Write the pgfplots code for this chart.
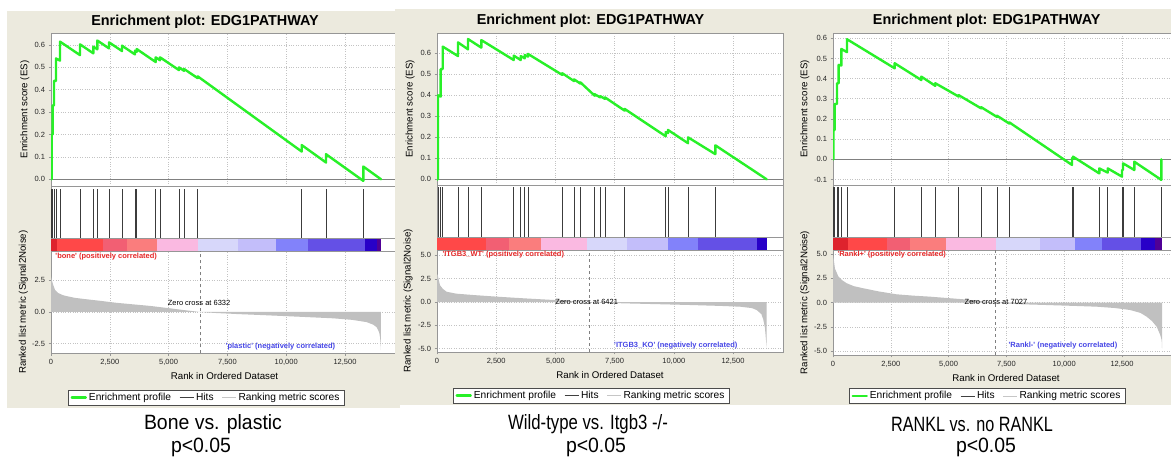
\documentclass[border=0pt]{standalone}
\usepackage{fontspec}
\setmainfont{Liberation Sans}
\usepackage{pgfplots}
\pgfplotsset{compat=1.18}
\usepackage{graphicx}

\definecolor{beige}{RGB}{236,234,222}
\definecolor{esgreen}{RGB}{40,240,40}
\definecolor{framegray}{RGB}{150,150,150}
\definecolor{gridgray}{RGB}{195,195,195}
\definecolor{hitgray}{RGB}{60,60,60}
\definecolor{rankgray}{RGB}{192,192,192}
\definecolor{cbA}{RGB}{222,35,45}
\definecolor{cbB}{RGB}{255,72,72}
\definecolor{cbC}{RGB}{242,95,115}
\definecolor{cbD}{RGB}{250,125,125}
\definecolor{cbE}{RGB}{250,185,225}
\definecolor{cbF}{RGB}{215,215,250}
\definecolor{cbG}{RGB}{195,190,250}
\definecolor{cbH}{RGB}{130,130,250}
\definecolor{cbI}{RGB}{100,80,230}
\definecolor{cbJ}{RGB}{40,0,200}
\definecolor{cbK}{RGB}{80,0,150}
\definecolor{postext}{RGB}{230,40,40}
\definecolor{negtext}{RGB}{70,70,230}

\newcommand\seg[4]{\addplot[fill=#1,draw=none,forget plot] coordinates {(#2,0)(#3,0)(#3,#4)(#2,#4)};}

\tikzset{smalltxt/.style={font=\bfseries\fontsize{7.5}{8}\selectfont}}

\pgfplotsset{
  gsea/.style={
    scale only axis,
    axis background/.style={fill=white},
    axis line style={framegray},
    tick style={framegray, thin},
    tick align=outside,
    major tick length=2.5pt,
    xtick pos=bottom, ytick pos=left,
    ticklabel style={font=\fontsize{7.5}{8}\selectfont, text=black!85},
    label style={font=\fontsize{9.7}{10}\selectfont},
    /pgf/number format/assume math mode=true,
    grid style={gridgray, dotted, line width=0.6pt},
    yticklabel style={/pgf/number format/.cd, fixed, fixed zerofill, precision=1},
    xtick={0,2500,5000,7500,10000,12500},
    scaled x ticks=false, scaled y ticks=false,
  },
  es/.style={gsea, xmajorgrids, ymajorgrids, xticklabels={}, xtick style={draw=none},
    legend columns=3,
    legend style={font=\fontsize{10.2}{11}\selectfont, draw=black!70, inner xsep=2.5pt, inner ysep=1pt,
      /tikz/every even column/.append style={column sep=6pt}},
    legend cell align=left,
    legend image code/.code={\draw[##1] (0pt,0pt) -- (14pt,0pt);},
  },
  hits/.style={gsea, xtick=\empty, ytick=\empty, ymin=0, ymax=65},
  ranked/.style={gsea, xmajorgrids, ymajorgrids,
    xticklabels={0,{2,500},{5,000},{7,500},{10,000},{12,500}},
    xlabel={Rank in Ordered Dataset},
    ylabel={Ranked list metric (Signal2Noise)},
  },
}

\begin{document}
\begin{tikzpicture}[x=1pt,y=1pt]
\useasboundingbox (0,0) rectangle (1171,459);
\fill[white] (0,0) rectangle (1171,459);

% ================= Panel 1 =================
\fill[beige] (7,51) rectangle (400,448);
\begin{axis}[es, at={(51pt,426pt)}, anchor=north west, width=347pt, height=153pt,
  xmin=0, xmax=14753, ymin=-0.030, ymax=0.6537,
  ytick={0,0.1,0.2,0.3,0.4,0.5,0.6},
  ylabel={Enrichment score (ES)},
  ylabel style={at={(axis description cs:-0.075,0.5)}, anchor=center},
  legend style={at={(axis description cs:0.4467,-1.3824)}, anchor=center}]
\addplot[gray, line width=0.6pt, forget plot] coordinates {(0,0)(14753,0)};
\addplot[esgreen, line width=2.4pt, line join=round, line cap=round] coordinates {
(0,0)(30,0)(30,0.20)(72,0.20)(72,0.33)(128,0.33)(128,0.44)(213,0.44)(213,0.54)
(383,0.53)(383,0.615)(1233,0.555)(1233,0.603)(1799,0.563)(1799,0.593)(1969,0.581)(1969,0.62)
(2466,0.585)(2466,0.612)(3019,0.573)(3019,0.597)(3571,0.558)(3571,0.575)(3644,0.57)(3644,0.582)
(4451,0.524)(4451,0.545)(4634,0.532)(4634,0.545)(5442,0.488)(5442,0.50)(5655,0.485)(5655,0.493)
(6237,0.452)(6237,0.46)(10659,0.124)(10659,0.153)(11692,0.075)(11692,0.112)(13278,-0.007)(13278,0.057)(14030,0)};
\addlegendentry{Enrichment profile}
\addlegendimage{color=black!75, line width=0.9pt}
\addlegendentry{Hits}
\addlegendimage{color=gray!45, line width=0.9pt}
\addlegendentry{Ranking metric scores}
\end{axis}
\begin{axis}[hits, at={(51pt,273pt)}, anchor=north west, width=347pt, height=65pt, xmin=0, xmax=14753]
\addplot[ycomb, hitgray, line width=0.9pt, mark=none, forget plot] coordinates {
(30,62)(72,62)(128,62)(213,62)(383,62)(1233,62)(1799,62)(1969,62)(2466,62)(3019,62)(3571,62)(3644,62)
(4451,62)(4634,62)(5442,62)(5655,62)(6237,62)(10659,62)(11692,62)(13278,62)};
\seg{cbA}{0}{242}{12.5}
\seg{cbB}{242}{2224}{12.5}
\seg{cbC}{2224}{3219}{12.5}
\seg{cbD}{3219}{4520}{12.5}
\seg{cbE}{4520}{6262}{12.5}
\seg{cbF}{6262}{7963}{12.5}
\seg{cbG}{7963}{9566}{12.5}
\seg{cbH}{9566}{10939}{12.5}
\seg{cbI}{10939}{13359}{12.5}
\seg{cbJ}{13359}{13848}{12.5}
\seg{cbK}{13848}{14030}{12.5}
\addplot[framegray, line width=0.5pt, forget plot] coordinates {(0,12.5)(14753,12.5)};
\end{axis}
\begin{axis}[ranked, at={(51pt,208pt)}, anchor=north west, width=347pt, height=102.3pt,
  xmin=0, xmax=14753, ymin=-3.26, ymax=4.81, ytick={-2.5,0,2.5},
  ylabel style={at={(axis description cs:-0.0798,0.5)}, anchor=center}]
\addplot[fill=rankgray, draw=none, forget plot] coordinates {
(0,0)(0,2.8)(30,2.55)(100,2.1)(170,1.75)(300,1.5)(500,1.33)(667,1.25)(1000,1.12)(1375,1.03)(2000,0.9)
(2792,0.72)(3500,0.6)(4200,0.48)(4918,0.32)(5600,0.16)(6332,0)(7000,-0.08)(8000,-0.17)(9169,-0.26)
(10500,-0.37)(12003,-0.5)(12800,-0.62)(13421,-0.8)(13700,-1.0)(13846,-1.2)(13950,-1.6)(13988,-1.96)
(14010,-2.4)(14030,-3.0)(14030,0)};
\addplot[gray, dashed, line width=0.5pt, forget plot] coordinates {(6332,-3.26)(6332,4.81)};
\node[smalltxt, text=postext, anchor=west] at (axis cs:40,4.34) {\textquotesingle bone\textquotesingle{} (positively correlated)};
\node[smalltxt, text=negtext] at (axis cs:9758,-2.76) {\textquotesingle plastic\textquotesingle{} (negatively correlated)};
\node[font=\fontsize{7.5}{8}\selectfont] at (axis cs:6293,0.71) {Zero cross at 6332};
\end{axis}
\node[font=\bfseries\fontsize{14.4}{15}\selectfont] at (205,437.3) {Enrichment plot: EDG1PATHWAY};

% ================= Panel 2 =================
\fill[beige] (395,54) rectangle (787,450);
\begin{axis}[es, at={(437pt,426pt)}, anchor=north west, width=346pt, height=152pt,
  xmin=0, xmax=14611, ymin=-0.027, ymax=0.6967,
  ytick={0,0.1,0.2,0.3,0.4,0.5,0.6},
  ylabel={Enrichment score (ES)},
  ylabel style={at={(axis description cs:-0.078,0.5)}, anchor=center},
  legend style={at={(axis description cs:0.445,-1.385)}, anchor=center}]
\addplot[gray, line width=0.6pt, forget plot] coordinates {(0,0)(14611,0)};
\addplot[esgreen, line width=2.4pt, line join=round, line cap=round] coordinates {
(0,0)(40,0)(40,0.40)(156,0.394)(156,0.525)(241,0.525)(241,0.632)(887,0.587)(887,0.652)(1309,0.619)(1309,0.668)
(1871,0.627)(1871,0.663)(3239,0.568)(3239,0.589)(3535,0.568)(3535,0.587)(3704,0.576)(3704,0.592)(3843,0.584)(3843,0.597)
(5292,0.497)(5292,0.505)(5785,0.468)(5785,0.476)(6052,0.456)(6052,0.462)(6660,0.398)(6660,0.405)(6896,0.39)(6896,0.396)
(7095,0.383)(7095,0.39)(7926,0.327)(7926,0.335)(9658,0.205)(9658,0.225)(9755,0.22)(9755,0.235)(10600,0.172)(10600,0.2)
(11752,0.12)(11752,0.162)(13923,0)};
\addlegendentry{Enrichment profile}
\addlegendimage{color=black!75, line width=0.9pt}
\addlegendentry{Hits}
\addlegendimage{color=gray!45, line width=0.9pt}
\addlegendentry{Ranking metric scores}
\end{axis}
\begin{axis}[hits, at={(437pt,274pt)}, anchor=north west, width=346pt, height=65pt, xmin=0, xmax=14611]
\addplot[ycomb, hitgray, line width=0.9pt, mark=none, forget plot] coordinates {
(40,63)(156,63)(241,63)(887,63)(1309,63)(1871,63)(3239,63)(3535,63)(3704,63)(3843,63)(5292,63)(5785,63)
(6052,63)(6660,63)(6896,63)(7095,63)(7926,63)(9658,63)(9755,63)(10600,63)(11752,63)};
\seg{cbB}{0}{2082}{12.5}
\seg{cbC}{2082}{3027}{12.5}
\seg{cbD}{3027}{4378}{12.5}
\seg{cbE}{4378}{6348}{12.5}
\seg{cbF}{6348}{8037}{12.5}
\seg{cbG}{8037}{9755}{12.5}
\seg{cbH}{9755}{11022}{12.5}
\seg{cbI}{11022}{13527}{12.5}
\seg{cbJ}{13527}{13923}{12.5}
\addplot[framegray, line width=0.5pt, forget plot] coordinates {(0,12.5)(14611,12.5)};
\end{axis}
\begin{axis}[ranked, at={(437pt,209pt)}, anchor=north west, width=346pt, height=102pt,
  xmin=0, xmax=14611, ymin=-5.36, ymax=5.58, ytick={-5,-2.5,0,2.5,5},
  ylabel style={at={(axis description cs:-0.0838,0.5)}, anchor=center}]
\addplot[fill=rankgray, draw=none, forget plot] coordinates {
(0,0)(0,3.0)(28,2.9)(127,1.8)(250,1.4)(408,1.1)(800,0.9)(1534,0.75)(2500,0.58)(3645,0.4)(5053,0.2)(6421,0)
(7868,-0.14)(9300,-0.23)(10684,-0.32)(12000,-0.42)(12796,-0.5)(13300,-0.65)(13500,-0.86)(13700,-1.3)
(13781,-1.9)(13850,-2.8)(13880,-3.7)(13923,-4.9)(13923,0)};
\addplot[gray, dashed, line width=0.5pt, forget plot] coordinates {(6421,-5.36)(6421,5.58)};
\node[smalltxt, text=postext, anchor=west] at (axis cs:84,5.04) {\textquotesingle ITGB3\_WT\textquotesingle{} (positively correlated)};
\node[smalltxt, text=negtext] at (axis cs:10085,-4.69) {\textquotesingle ITGB3\_KO\textquotesingle{} (negatively correlated)};
\node[font=\fontsize{7.5}{8}\selectfont] at (axis cs:6322,0.03) {Zero cross at 6421};
\end{axis}
\node[font=\bfseries\fontsize{14.4}{15}\selectfont] at (590.5,438.2) {Enrichment plot: EDG1PATHWAY};

% ================= Panel 3 =================
\fill[beige] (787,54) rectangle (1171,450);
\begin{axis}[es, at={(833pt,426pt)}, anchor=north west, width=346pt, height=152pt,
  xmin=0, xmax=14965, ymin=-0.1274, ymax=0.626,
  ytick={-0.1,0,0.1,0.2,0.3,0.4,0.5,0.6},
  ylabel={Enrichment score (ES)},
  ylabel style={at={(axis description cs:-0.081,0.5)}, anchor=center},
  legend style={at={(axis description cs:0.445,-1.388)}, anchor=center}]
\addplot[gray, line width=0.6pt, forget plot] coordinates {(0,0)(14965,0)};
\addplot[esgreen, line width=2.4pt, line join=round, line cap=round] coordinates {
(0,0)(14,0)(14,0.145)(72,0.145)(72,0.274)(173,0.274)(173,0.377)(245,0.377)(245,0.468)(360,0.465)(360,0.547)
(606,0.531)(606,0.595)(2667,0.451)(2667,0.476)(3819,0.393)(3819,0.41)(4424,0.364)(4424,0.377)(5436,0.311)(5436,0.318)
(6413,0.252)(6413,0.258)(7093,0.21)(7093,0.216)(7626,0.177)(7626,0.183)(10337,-0.028)(10337,0.005)(10381,0.002)(10381,0.013)
(11519,-0.07)(11519,-0.045)(11881,-0.066)(11881,-0.045)(12500,-0.086)(12500,-0.053)(12543,-0.053)(12543,-0.02)
(13032,-0.053)(13032,-0.012)(14200,-0.102)(14200,0.0)};
\addlegendentry{Enrichment profile}
\addlegendimage{color=black!75, line width=0.9pt}
\addlegendentry{Hits}
\addlegendimage{color=gray!45, line width=0.9pt}
\addlegendentry{Ranking metric scores}
\end{axis}
\begin{axis}[hits, at={(833pt,274pt)}, anchor=north west, width=346pt, height=65pt, xmin=0, xmax=14965]
\addplot[ycomb, hitgray, line width=0.9pt, mark=none, forget plot] coordinates {
(14,63)(72,63)(173,63)(245,63)(360,63)(606,63)(2667,63)(3819,63)(4424,63)(5436,63)(6413,63)(7093,63)(7626,63)
(10337,63)(10381,63)(11519,63)(11881,63)(12500,63)(12543,63)(13032,63)(14200,63)};
\seg{cbA}{0}{649}{12.5}
\seg{cbB}{649}{2336}{12.5}
\seg{cbC}{2336}{3343}{12.5}
\seg{cbD}{3343}{4888}{12.5}
\seg{cbE}{4888}{7066}{12.5}
\seg{cbF}{7066}{8968}{12.5}
\seg{cbG}{8968}{10482}{12.5}
\seg{cbH}{10482}{11635}{12.5}
\seg{cbI}{11635}{13336}{12.5}
\seg{cbJ}{13336}{13941}{12.5}
\seg{cbK}{13941}{14230}{12.5}
\addplot[framegray, line width=0.5pt, forget plot] coordinates {(0,12.5)(14965,12.5)};
\end{axis}
\begin{axis}[ranked, at={(833pt,209pt)}, anchor=north west, width=346pt, height=105pt,
  xmin=0, xmax=14965, ymin=-5.38, ymax=5.42, ytick={-5,-2.5,0,2.5,5},
  ylabel style={at={(axis description cs:-0.081,0.5)}, anchor=center}]
\addplot[fill=rankgray, draw=none, forget plot] coordinates {
(0,0)(0,4.9)(14,4.75)(86,3.5)(231,2.7)(400,2.3)(591,2.0)(900,1.7)(1312,1.48)(2000,1.15)(2754,0.86)(3500,0.72)
(4195,0.62)(5637,0.35)(7027,0)(8000,-0.15)(9241,-0.24)(10300,-0.32)(11404,-0.41)(12200,-0.55)(12846,-0.75)
(13300,-1.05)(13567,-1.44)(13800,-1.9)(14000,-2.47)(14150,-3.3)(14216,-3.84)(14230,-4.7)(14230,0)};
\addplot[gray, dashed, line width=0.5pt, forget plot] coordinates {(7027,-5.38)(7027,5.42)};
\node[smalltxt, text=postext, anchor=west] at (axis cs:43,4.9) {\textquotesingle Rankl+\textquotesingle{} (positively correlated)};
\node[smalltxt, text=negtext] at (axis cs:9948,-4.42) {\textquotesingle Rankl-\textquotesingle{} (negatively correlated)};
\node[font=\fontsize{7.5}{8}\selectfont] at (axis cs:7050,0.1) {Zero cross at 7027};
\end{axis}
\node[font=\bfseries\fontsize{14.4}{15}\selectfont] at (986.7,438.2) {Enrichment plot: EDG1PATHWAY};

% ================= Captions =================
\node[font=\fontsize{18}{20}\selectfont] at (213,35) {\scalebox{1.08}[1.15]{Bone vs. plastic}};
\node[font=\fontsize{18}{20}\selectfont] at (201,12) {\scalebox{1.08}[1.15]{p<0.05}};
\node[font=\fontsize{18}{20}\selectfont] at (588,35) {\scalebox{0.93}[1.15]{Wild-type vs. Itgb3 -/-}};
\node[font=\fontsize{18}{20}\selectfont] at (596,12) {\scalebox{1.08}[1.15]{p<0.05}};
\node[font=\fontsize{18}{20}\selectfont] at (972,35) {\scalebox{0.9}[1.15]{RANKL vs. no RANKL}};
\node[font=\fontsize{18}{20}\selectfont] at (986,12) {\scalebox{1.08}[1.15]{p<0.05}};
\end{tikzpicture}
\end{document}
